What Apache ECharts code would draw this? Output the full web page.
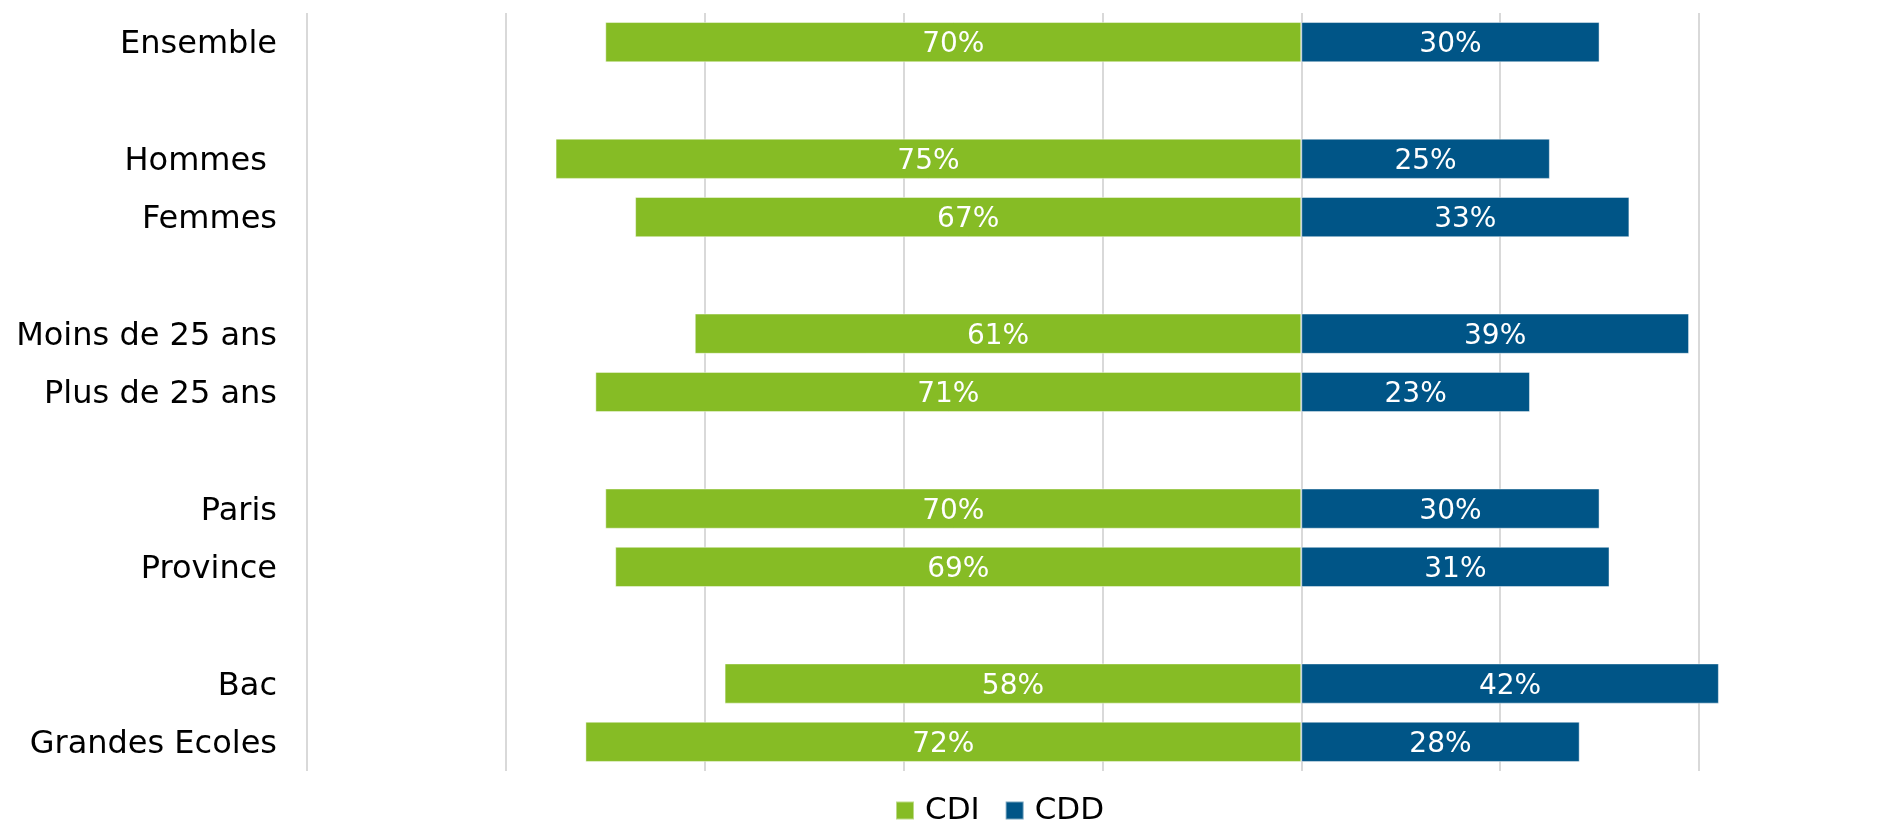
<!DOCTYPE html>
<html>
<head>
<meta charset="utf-8">
<script src="https://cdn.jsdelivr.net/npm/echarts@6/dist/echarts.min.js"></script>
<style>
html,body{margin:0;padding:0;background:#fff;}
#chart{width:1879px;height:822px;}
</style>
</head>
<body>
<div id="chart"></div>
<script>
const categories = ['Ensemble', '', 'Hommes ', 'Femmes', '', 'Moins de 25 ans', 'Plus de 25 ans', '', 'Paris', 'Province', '', 'Bac', 'Grandes Ecoles'];
const cdiValues = [70, null, 75, 67, null, 61, 71, null, 70, 69, null, 58, 72];
const cddValues = [30, null, 25, 33, null, 39, 23, null, 30, 31, null, 42, 28];
const seriesNames = ['CDI', 'CDD'];

const chart = echarts.init(document.getElementById('chart'));
const font = 'DejaVu Sans, Verdana, sans-serif';
const labelCfg = {
  show: true,
  position: 'inside',
  offset: [0, 3],
  color: '#ffffff',
  fontSize: 28,
  fontFamily: font,
  formatter: p => Math.abs(p.value) + '%'
};
chart.setOption({
  animation: false,
  textStyle: { fontFamily: font },
  grid: { left: 307, right: 180, top: 13, bottom: 51, containLabel: false },
  xAxis: {
    type: 'value', min: -100, max: 40, interval: 20,
    axisLabel: { show: false }, axisTick: { show: false }, axisLine: { show: false },
    splitLine: { show: true, lineStyle: { color: '#d9d9d9', width: 2 } }
  },
  yAxis: {
    type: 'category', inverse: true, data: categories,
    axisLine: { show: false }, axisTick: { show: false },
    axisLabel: {
      color: '#000000', fontSize: 32, fontFamily: font, margin: 30,
      formatter: v => '{a|' + v + '}',
      rich: { a: { color: '#000000', fontSize: 32, fontFamily: font, padding: [6, 0, 0, 0] } }
    }
  },
  legend: {
    data: seriesNames, left: 890, top: 790, icon: 'rect', itemWidth: 18, itemHeight: 18, itemGap: 25,
    textStyle: { fontSize: 31, color: '#000000', fontFamily: font, padding: [0, 0, 0, 6] }
  },
  series: [
    {
      name: seriesNames[0], type: 'bar', barCategoryGap: '31%', barGap: '-100%', clip: false,
      data: cdiValues.map(v => v == null ? null : -v),
      itemStyle: { color: '#86BC25', borderColor: 'rgba(255,255,255,0.45)', borderWidth: 1 },
      label: labelCfg
    },
    {
      name: seriesNames[1], type: 'bar', barCategoryGap: '31%', barGap: '-100%', clip: false,
      data: cddValues,
      itemStyle: { color: '#005587', borderColor: 'rgba(255,255,255,0.45)', borderWidth: 1 },
      label: labelCfg
    }
  ]
});
</script>
</body>
</html>
